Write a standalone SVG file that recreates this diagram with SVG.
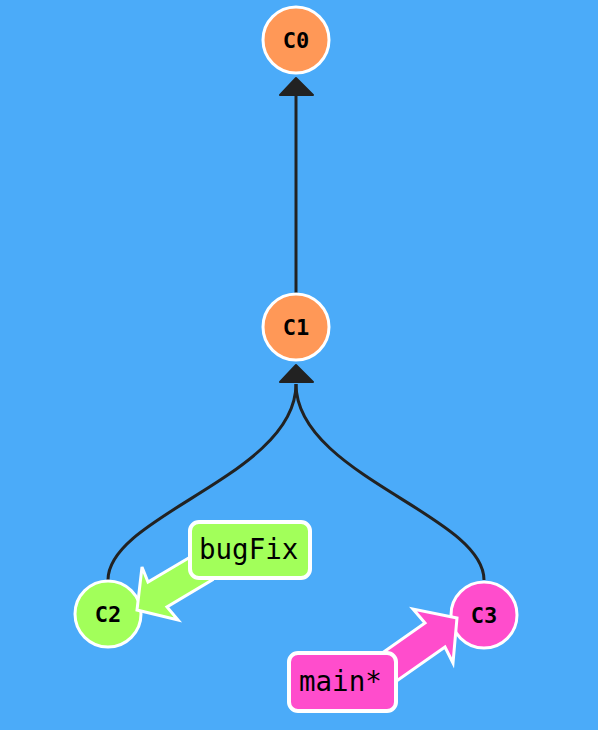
<svg xmlns="http://www.w3.org/2000/svg" width="598" height="730" viewBox="0 0 598 730">
<defs>
<style>
.edge{fill:none;stroke:#222;stroke-width:3}
.head{fill:#222;stroke:#222;stroke-width:2;stroke-linejoin:round}
.commit{stroke:#fff;stroke-width:3}
.ctext{font-family:"DejaVu Sans Mono","Liberation Mono",monospace;font-weight:bold;font-size:22px;fill:#000;text-anchor:middle}
.ltext{font-family:"DejaVu Sans Mono","Liberation Mono",monospace;font-size:27.5px;fill:#000}
.lbox{stroke:#fff;stroke-width:4}
.arrow{stroke:#fff;stroke-width:3;stroke-linejoin:miter}
</style>
</defs>
<rect x="0" y="0" width="598" height="730" fill="#4babf9"/>
<g id="connectors">
<path class="edge" d="M296,293 L296,94"/>
<polygon class="head" points="296,78 280,95 313,95"/>
<path class="edge" d="M108,580 C108,515 296,475 296,384"/>
<path class="edge" d="M484,580 C484,515 296,475 296,384"/>
<polygon class="head" points="296,365 280,382 313,382"/>
</g>
<g id="C0">
<circle class="commit" cx="296" cy="40" r="33" fill="#ff9857"/>
<text class="ctext" x="296" y="48">C0</text>
</g>
<g id="C1">
<circle class="commit" cx="296" cy="327" r="33" fill="#ff9857"/>
<text class="ctext" x="296" y="335">C1</text>
</g>
<g id="C2">
<circle class="commit" cx="108" cy="614" r="33" fill="#a2ff5a"/>
<text class="ctext" x="108" y="622">C2</text>
</g>
<g id="C3">
<circle class="commit" cx="484" cy="615" r="33" fill="#ff4dcc"/>
<text class="ctext" x="484" y="623">C3</text>
</g>
<g id="bugFix">
<polygon class="arrow" fill="#a2ff5a" points="192,556 148,582 142,567 137,610 178,620 167,607 212,580"/>
<rect class="lbox" x="190" y="522" width="120" height="56" rx="9" fill="#a2ff5a"/>
<text class="ltext" x="199" y="559">bugFix</text>
</g>
<g id="main">
<polygon class="arrow" fill="#ff4dcc" points="378,656 425,623 413,609 457,618 453,663 445,647 398,680"/>
<rect class="lbox" x="289" y="653" width="107" height="58" rx="9" fill="#ff4dcc"/>
<text class="ltext" x="299" y="691">main*</text>
</g>
</svg>
